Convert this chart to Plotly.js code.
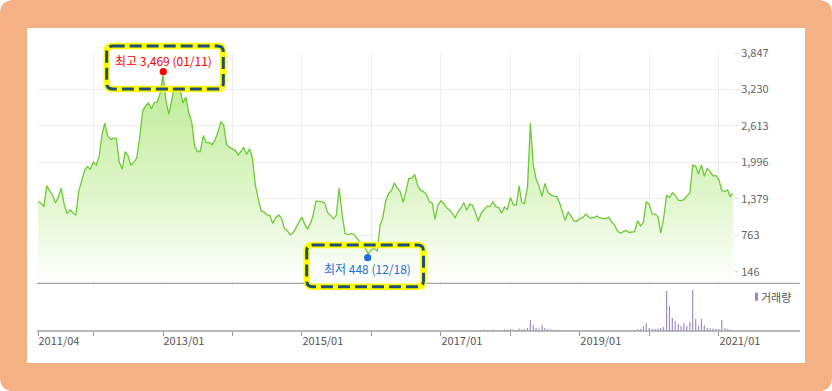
<!DOCTYPE html>
<html><head><meta charset="utf-8">
<script src="https://cdn.plot.ly/plotly-3.0.1.min.js"></script>
<style>html,body{margin:0;padding:0;background:#fff;} #chart{width:832px;height:391px;}</style>
</head><body><div id="chart"></div>
<script>
// ---- data (half-monthly samples starting 2011-03-16) ----
const price = [
1332,1305,1247,1598,1518,1440,1310,1410,1560,1280,
1130,1195,1140,1106,1500,1710,1860,1925,1880,2000,
1950,2110,2480,2660,2450,2380,2410,2400,2000,1880,
2180,2110,1945,2000,2070,2434,2860,2950,3000,2900,
3010,3020,3150,3469,3050,2810,3080,3270,3254,3230,
3000,3100,2840,2680,2270,2180,2180,2450,2330,2330,
2295,2370,2500,2680,2632,2300,2250,2230,2200,2120,
2190,2250,2130,2225,2070,1620,1390,1175,1160,1106,
1100,960,1060,1106,1050,880,840,770,805,890,
975,1070,945,870,970,1100,1340,1340,1330,1310,
1150,1095,1040,1100,1559,1100,796,775,790,780,
713,650,585,541,448,520,540,490,930,1055,
1340,1470,1520,1650,1560,1500,1320,1500,1720,1728,
1790,1600,1525,1502,1455,1330,1310,1030,1270,1345,
1300,1222,1190,1135,1060,1160,1220,1315,1185,1290,
1270,1150,1000,1140,1190,1255,1247,1325,1247,1230,
1135,1240,1200,1400,1280,1270,1600,1320,1300,1586,
2660,1960,1710,1590,1420,1640,1500,1445,1425,1417,
1315,1150,1010,1163,1090,1007,1000,1050,1060,1120,
1075,1050,1065,1090,1055,1050,1040,1068,990,940,
845,796,823,845,810,815,823,1010,920,980,
1330,1285,1120,1120,1075,800,1040,1440,1400,1480,
1445,1355,1350,1365,1430,1470,1950,1930,1800,1954,
1760,1895,1845,1765,1775,1700,1520,1502,1530,1417,
1474];
const volumeStartIndex = 151;
const volume = [
1,0.5,1,1.5,1,1,1.5,0.5,1,1,
1.5,1,2,1.5,1,2.5,1.5,2,3,11,
6,3,2.5,6,3,2,1.5,1.5,1,1,
1,0.5,1,0.5,1,0.5,1,0.5,1,0.5,
1,0.5,1,0,0,0.5,0,0,0,0,
0,0,0,0,0,1,2,2,5,8,
3,2,2,2.5,3,4,40,25,13,10,
7,5,8,5,9,41,12,5,12,6,
3,3,2.5,2,2,11,3,2,1.5,1];
const priceTicks = [146, 763, 1379, 1996, 2613, 3230, 3847];
const xTickVals = ['2011-03-16','2012-01-01','2013-01-01','2014-01-01','2015-01-01','2016-01-01','2017-01-01','2018-01-01','2019-01-01','2020-01-01','2021-01-01'];
const xTickText = ['2011/04','','2013/01','','2015/01','','2017/01','','2019/01','','2021/01'];
const maxLabel = '최고 3,469 (01/11)';
const minLabel = '최저 448 (12/18)';
const volumeLabel = '거래량';

// dates: 16th / 1st of each month
const dates = [];
for (let k = 0; k < price.length; k++) {
  const even = k % 2 === 0;
  const m = even ? k / 2 : (k + 1) / 2;
  const d = new Date(Date.UTC(2011, 2 + m, even ? 16 : 1));
  dates.push(d.toISOString().slice(0, 10));
}
const volDates = dates.slice(volumeStartIndex, volumeStartIndex + volume.length);

// ---- geometry ----
const PL = 38, PR = 733, PT = 53, PB = 331, SEP = 283.3;
const xRange = ['2011-03-16', '2021-03-16'];
const yRange = [-50.6, 3847];
const volTop = PB - SEP;
const volDomainTop = (PB - SEP) / (PB - PT);
const t0 = Date.UTC(2011, 2, 16), t1 = Date.UTC(2021, 2, 16);
const pxX = p => (p - PL) / (PR - PL);
const pxY = p => (PB - p) / (PB - PT);
const pxToMs = p => t0 + (p - PL) / (PR - PL) * (t1 - t0);
const pyToVal = p => yRange[1] - (p - PT) / (SEP - PT) * (yRange[1] - yRange[0]);

function rr(x0, y0, x1, y1, r) {
  const X = v => pxX(v).toFixed(5), Y = v => pxY(v).toFixed(5);
  return `M${X(x0 + r)},${Y(y0)} L${X(x1 - r)},${Y(y0)} Q${X(x1)},${Y(y0)} ${X(x1)},${Y(y0 + r)} ` +
         `L${X(x1)},${Y(y1 - r)} Q${X(x1)},${Y(y1)} ${X(x1 - r)},${Y(y1)} ` +
         `L${X(x0 + r)},${Y(y1)} Q${X(x0)},${Y(y1)} ${X(x0)},${Y(y1 - r)} ` +
         `L${X(x0)},${Y(y0 + r)} Q${X(x0)},${Y(y0)} ${X(x0 + r)},${Y(y0)} Z`;
}
function circle(cx, cy, r, color) {
  return {type: 'circle', xref: 'paper', yref: 'paper', layer: 'above',
    x0: pxX(cx - r), x1: pxX(cx + r), y0: pxY(cy + r), y1: pxY(cy - r),
    fillcolor: color, line: {width: 0}};
}
function hline(y, color) {
  return {type: 'line', xref: 'paper', yref: 'paper', layer: 'above',
    x0: pxX(37), x1: pxX(800), y0: pxY(y), y1: pxY(y), line: {color: color, width: 1.3}};
}
function box(x0, y0, x1, y1) {
  return [
    {type: 'path', xref: 'paper', yref: 'paper', layer: 'above', path: rr(x0, y0, x1, y1, 6),
      line: {color: '#FFFF00', width: 6.5}},
    {type: 'path', xref: 'paper', yref: 'paper', layer: 'above', path: rr(x0, y0, x1, y1, 6),
      line: {color: '#1F4E79', width: 3, dash: '12px,5px'}}
  ];
}

const shapes = [
  {type: 'path', xref: 'paper', yref: 'paper', layer: 'below', path: rr(0, 0, 832, 391, 14),
    fillcolor: '#F4B183', line: {width: 0}},
  {type: 'rect', xref: 'paper', yref: 'paper', layer: 'below',
    x0: pxX(27), x1: pxX(805), y0: pxY(363), y1: pxY(28), fillcolor: '#FFFFFF', line: {width: 0}},
  // white box backgrounds (between grid and traces)
  {type: 'rect', xref: 'x', yref: 'y', layer: 'between',
    x0: pxToMs(104), x1: pxToMs(226), y0: pyToVal(92), y1: pyToVal(43), fillcolor: '#FFFFFF', line: {width: 0}},
  {type: 'rect', xref: 'x', yref: 'y', layer: 'between',
    x0: pxToMs(304), x1: pxToMs(426), y0: pyToVal(283.3), y1: pyToVal(242), fillcolor: '#FFFFFF', line: {width: 0}},
  hline(SEP, '#A3A3A3'),
  hline(PB, '#A3A3A3'),
  {type: 'rect', xref: 'paper', yref: 'paper', layer: 'above',
    x0: pxX(304), x1: pxX(426), y0: pxY(290), y1: pxY(281.5), fillcolor: '#FFFFFF', line: {width: 0}},
  ...box(106.7, 46, 223.3, 89),
  ...box(306.7, 245, 423.5, 286.7),
  circle(163.3, 71.7, 3.6, '#FF0000'),
  circle(367.7, 257.7, 3.6, '#1F6FD6'),
  {type: 'rect', xref: 'paper', yref: 'paper', layer: 'above',
    x0: pxX(755), x1: pxX(758), y0: pxY(300.7), y1: pxY(292.7), fillcolor: '#9C87C9', line: {width: 0}}
];

const annotations = [
  {xref: 'paper', yref: 'paper', x: pxX(163.3), y: pxY(60.5), text: maxLabel, showarrow: false,
    xanchor: 'center', yanchor: 'middle', font: {size: 12, color: '#FF0000'}},
  {xref: 'paper', yref: 'paper', x: pxX(367.3), y: pxY(268.5), text: minLabel, showarrow: false,
    xanchor: 'center', yanchor: 'middle', font: {size: 12, color: '#1F6FD6'}},
  {xref: 'paper', yref: 'paper', x: pxX(759), y: pxY(297), text: volumeLabel, showarrow: false,
    xanchor: 'left', yanchor: 'middle', font: {size: 11, color: '#555555'}}
];

const traces = [
  {type: 'scatter', mode: 'lines', x: dates, y: price, xaxis: 'x', yaxis: 'y',
    line: {color: '#6CCB35', width: 1.3}, fill: 'tozeroy',
    fillgradient: {type: 'vertical', start: yRange[0], stop: 3500,
      colorscale: [[0, '#FFFFFF'], [0.41, '#E0F6CC'], [1, '#BDEB95']]},
    hoverinfo: 'skip'},
  {type: 'bar', x: volDates, y: volume, xaxis: 'x2', yaxis: 'y2',
    marker: {color: '#9C87C9', line: {width: 0}}, width: 6 * 86400000, hoverinfo: 'skip'}
];

const layout = {
  width: 832, height: 391,
  margin: {l: PL, r: 832 - PR, t: PT, b: 391 - PB, pad: 0},
  paper_bgcolor: '#FFFFFF', plot_bgcolor: 'rgba(0,0,0,0)',
  showlegend: false,
  font: {family: 'Noto Sans CJK KR, Noto Sans, sans-serif', size: 11, color: '#555'},
  xaxis: {type: 'date', range: xRange, anchor: 'y', tickmode: 'array', tickvals: xTickVals,
    showticklabels: false, ticks: '', showgrid: true, gridcolor: '#EDEDED', gridwidth: 1,
    zeroline: false, showline: false, fixedrange: true},
  xaxis2: {type: 'date', range: xRange, anchor: 'y2', matches: 'x', tickmode: 'array',
    tickvals: xTickVals, ticktext: xTickText, ticks: 'outside', ticklen: 4, tickwidth: 1,
    tickcolor: '#999999', showgrid: false, zeroline: false, showline: false,
    ticklabelposition: 'outside right', tickfont: {size: 11, color: '#555555'}},
  yaxis: {domain: [volDomainTop, 1], range: yRange, anchor: 'x', side: 'right',
    tickmode: 'array', tickvals: priceTicks, tickformat: ',', ticks: 'outside', ticklen: 5,
    tickcolor: '#E6E6E6', showgrid: true, gridcolor: '#EDEDED', zeroline: false, showline: false,
    tickfont: {size: 11, color: '#666666'}},
  yaxis2: {domain: [0, volDomainTop], range: [0, volTop], anchor: 'x2',
    showticklabels: false, showgrid: false, zeroline: false, showline: false, ticks: ''},
  shapes: shapes,
  annotations: annotations
};

Plotly.newPlot('chart', traces, layout, {displayModeBar: false, staticPlot: true});
</script>
</body></html>
